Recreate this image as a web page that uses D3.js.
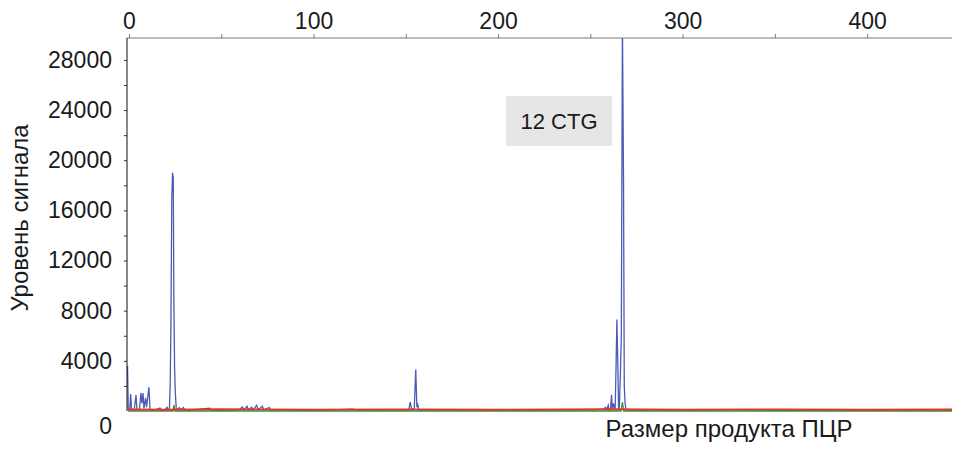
<html>
  <head>
    <meta charset="utf-8">
    <title>Уровень сигнала</title>
    <style>
    body{
      margin: 0;
      background-color: #ffffff;
    }
    text{
      font-family: "Liberation Sans", Arial, sans-serif;
      fill: #1a1a1a;
    }
    </style>
    <script src="https://d3js.org/d3.v7.min.js"></script>
  </head>
  <body>
    <div id="container"></div>
    <script>
    //size of svg
    const width = 971,
          height = 454;

    //axis settings
    var xDomain = [0, 446];
    var yDomain = [0, 29750];
    var xTickLabels = [0, 100, 200, 300, 400];
    var xTickMarks = [0, 50, 100, 150, 200, 250, 300, 350, 400];
    var yTickLabels = [4000, 8000, 12000, 16000, 20000, 24000, 28000];
    var yTickMarks = [2000, 4000, 6000, 8000, 10000, 12000, 14000, 16000, 18000, 20000, 22000, 24000, 26000, 28000];

    //blue trace: [size, signal]
    var blueTrace = [
      [-0.8, 3600], [-0.4, 120], [0.4, 90], [0.9, 1360], [1.4, 100], [2.8, 80], [3.8, 1270], [4.3, 90],
      [5.6, 120], [6.5, 1430], [7.0, 600], [7.6, 1430], [8.1, 200], [9.0, 1040], [9.5, 300], [10.8, 1900],
      [11.4, 120], [12.5, 80], [14, 100], [16.8, 240], [17.4, 70], [19.5, 90], [20.6, 300], [21.2, 90],
      [21.9, 150], [22.3, 2000], [22.7, 6500], [23.2, 17000], [23.6, 19000], [24.0, 18600], [24.3, 9000],
      [24.7, 3500], [25.1, 1500], [25.6, 200], [26.1, 80], [27.2, 260], [27.8, 70], [29.5, 280], [30.2, 80],
      [33, 60], [36, 100], [43.9, 220], [44.5, 70], [50, 60], [59.5, 90], [61.5, 320], [62.2, 80],
      [64, 380], [64.7, 90], [66.5, 300], [67.2, 80], [69.2, 450], [70, 100], [72.3, 380], [73, 90],
      [76, 280], [76.8, 70], [80, 90], [90, 60], [110, 80], [121, 140], [125, 70], [140, 80], [150, 90],
      [151.6, 80], [152.4, 700], [153.2, 90], [154.6, 200], [155.4, 3300], [156.0, 300], [156.4, 600],
      [157.0, 80], [170, 70], [190, 90], [210, 60], [230, 80], [245, 100], [252, 90], [257.2, 150],
      [258.3, 300], [258.9, 100], [259.7, 450], [260.2, 80], [261.0, 200], [261.5, 1300], [261.9, 200],
      [262.6, 600], [263.1, 150], [263.5, 300], [264.0, 4000], [264.4, 7300], [265.0, 3000], [265.3, 300],
      [265.7, 200], [266.3, 3000], [266.8, 6000], [267.4, 31000], [268.0, 18000], [268.4, 2000],
      [268.8, 700], [269.3, 100], [275, 80], [300, 70], [330, 90], [360, 60], [400, 80], [430, 70], [446, 80]
    ];

    //green trace
    var greenTrace = [
      [-0.5, 0], [23.8, 0], [24.4, 480], [24.9, 0], [266.6, 0], [267.4, 700], [268.1, 0], [446, 0]
    ];

    //red trace (baseline)
    var redTrace = [
      [-0.5, 120], [20, 100], [50, 140], [100, 110], [150, 130], [200, 100], [260, 140],
      [300, 110], [350, 130], [400, 100], [446, 120]
    ];

    var boxLabel = "12 CTG";
    var xTitle = "Размер продукта ПЦР";
    var yTitle = "Уровень сигнала";

    //scales
    var x = d3.scaleLinear().domain(xDomain).range([129, 952]);
    var y = d3.scaleLinear().domain(yDomain).range([411, 38]);

    var svg = d3.select("#container")
      .append("svg")
      .attr("width", width)
      .attr("height", height)
      .style("display", "block");

    //clip for the plot area
    svg.append("clipPath")
      .attr("id", "plotclip")
      .append("rect")
      .attr("x", 127)
      .attr("y", 38)
      .attr("width", 952 - 127)
      .attr("height", 411 - 38 + 3);

    var line = d3.line()
      .x(function(d) { return x(d[0]); })
      .y(function(d) { return y(d[1]); });

    var plot = svg.append("g").attr("clip-path", "url(#plotclip)");

    plot.append("path")
      .datum(blueTrace)
      .attr("d", line)
      .attr("fill", "none")
      .attr("stroke", "#4b5bb5")
      .attr("stroke-width", 1.3);

    plot.append("path")
      .datum(greenTrace)
      .attr("d", line)
      .attr("fill", "none")
      .attr("stroke", "#2a9a3a")
      .attr("stroke-width", 1.3);

    plot.append("path")
      .datum(redTrace)
      .attr("d", line)
      .attr("fill", "none")
      .attr("stroke", "#e8322a")
      .attr("stroke-width", 1.8);

    //top axis: ticks every 50, labels every 100
    var topAxis = svg.append("g")
      .attr("transform", "translate(0,38)")
      .call(d3.axisTop(x).tickValues(xTickMarks).tickSize(4)
        .tickFormat(function(d) { return xTickLabels.indexOf(d) >= 0 ? d : ""; }));
    topAxis.select(".domain").attr("stroke", "#7a7a7a").attr("d", "M" + (x.range()[0] - 2) + ",0H" + x.range()[1]);
    topAxis.selectAll(".tick line").attr("stroke", "#7a7a7a");
    topAxis.selectAll(".tick text")
      .style("font-size", "23px")
      .attr("y", -9);

    //left axis
    var leftAxis = svg.append("g")
      .attr("transform", "translate(127,0)")
      .call(d3.axisLeft(y).tickValues(yTickMarks).tickSize(3)
        .tickFormat(function(d) { return yTickLabels.indexOf(d) >= 0 ? d : ""; }));
    leftAxis.select(".domain").attr("stroke", "#111").attr("d", "M0," + y(0) + "V" + y.range()[1]);
    leftAxis.selectAll(".tick line").attr("stroke", "#333");
    leftAxis.selectAll(".tick text")
      .style("font-size", "23px")
      .attr("x", -15);

    //zero label sits below the baseline
    svg.append("text")
      .attr("x", 112)
      .attr("y", y(0) + 23)
      .attr("text-anchor", "end")
      .style("font-size", "23px")
      .text(0);

    //axis titles
    svg.append("text")
      .attr("transform", "translate(28,218) rotate(-90)")
      .attr("text-anchor", "middle")
      .style("font-size", "24px")
      .text(yTitle);

    svg.append("text")
      .attr("x", 729)
      .attr("y", 437)
      .attr("text-anchor", "middle")
      .style("font-size", "24px")
      .text(xTitle);

    //annotation box
    svg.append("rect")
      .attr("x", 506)
      .attr("y", 96)
      .attr("width", 106)
      .attr("height", 50)
      .attr("fill", "#e6e6e6");

    svg.append("text")
      .attr("x", 559)
      .attr("y", 129)
      .attr("text-anchor", "middle")
      .style("font-size", "22px")
      .text(boxLabel);
    </script>
  </body>
</html>
